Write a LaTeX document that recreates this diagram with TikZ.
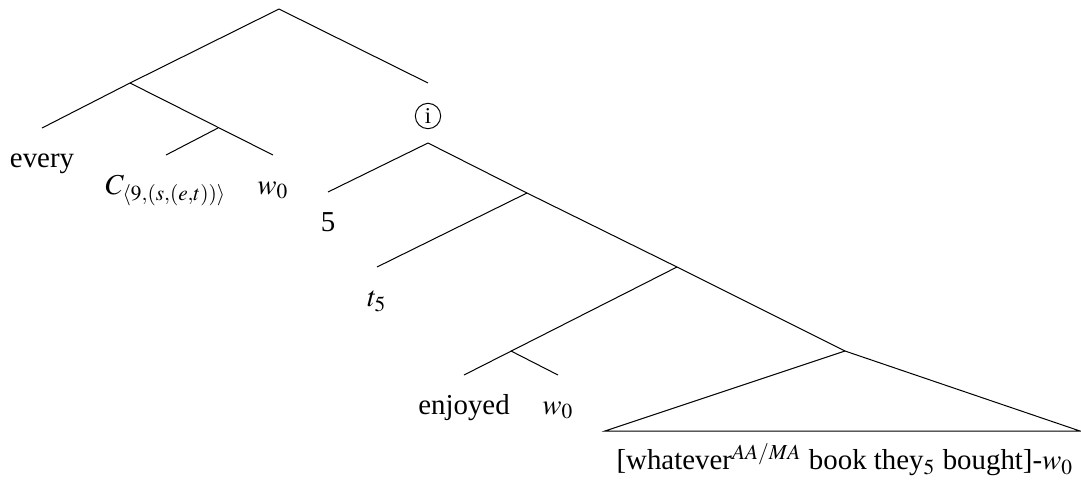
\documentclass[tikz,border=0pt]{standalone}
\usepackage{mathptmx}
\usepackage{fontspec}
\setmainfont{Liberation Serif}
\usetikzlibrary{positioning}

\begin{document}
\begin{tikzpicture}[every node/.style={font=\fontsize{11.5}{13.5}\selectfont},
    leaf/.style={anchor=north, inner sep=0pt, text height=15.5pt, text depth=4pt},
    circled/.style={circle, draw, minimum size=10.1pt, inner sep=0pt, font=\fontsize{9}{10}\selectfont}]
  \useasboundingbox (0,0) rectangle (15.134,-6.818);
  \coordinate (root) at (3.906,-0.126);
  \coordinate (det) at (1.82,-1.162);
  \coordinate (cw) at (3.052,-1.792);
  \coordinate (itop) at (5.992,-1.162);
  \node[circled] (idx) at (5.992,-1.624) {i};
  \coordinate (ibot) at (5.992,-2.002);
  \coordinate (vp) at (7.378,-2.702);
  \coordinate (vbar) at (9.478,-3.738);
  \coordinate (verb) at (7.154,-4.914);
  \coordinate (obj) at (11.83,-4.914);
  \coordinate (objl) at (8.47,-6.034);
  \coordinate (objr) at (15.12,-6.034);
  \node[leaf] (every) at (0.588,-1.792) {every};
  \node[leaf] (cvar) at (2.324,-2.17) {$C_{\langle 9,(s,(e,t))\rangle}$};
  \node[leaf] (w1) at (3.822,-2.17) {$w_0$};
  \node[leaf] (five) at (4.592,-2.688) {5};
  \node[leaf] (trace) at (5.278,-3.738) {$t_5$};
  \node[leaf] (enj) at (6.496,-5.25) {enjoyed};
  \node[leaf] (w2) at (7.812,-5.25) {$w_0$};
  \node[leaf, text height=15.2pt] (fr) at (11.83,-6.034) {[whatever$^{AA/MA}$ book they$_5$ bought]-$w_0$};
  \draw (root) -- (det); \draw (root) -- (itop);
  \draw (det) -- (every.north); \draw (det) -- (w1.north);
  \draw (cw) -- (cvar.north);
  \draw (ibot) -- (five.north); \draw (ibot) -- (vp) -- (vbar) -- (obj);
  \draw (vp) -- (trace.north);
  \draw (vbar) -- (enj.north);
  \draw (verb) -- (w2.north);
  \draw (objl) -- (obj) -- (objr) -- cycle;
\end{tikzpicture}
\end{document}
